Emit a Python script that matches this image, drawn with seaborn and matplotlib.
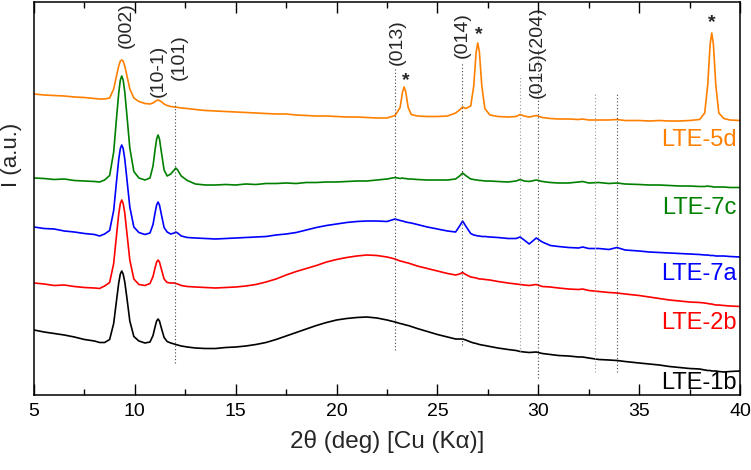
import pandas as pd
import seaborn as sns
import matplotlib.pyplot as plt
from matplotlib.ticker import MultipleLocator

# 2theta grid (deg)
two_theta = [5.0, 5.5, 6.0, 6.5, 7.0, 7.5, 8.0, 8.25, 8.5, 8.75,
             8.95, 9.1, 9.2, 9.28, 9.35, 9.42, 9.5, 9.6, 9.75, 9.95,
             10.2, 10.5, 10.75, 10.9, 11.0, 11.08, 11.15, 11.22, 11.3, 11.45,
             11.6, 11.78, 11.95, 12.03, 12.12, 12.3, 12.6, 13.0, 13.5, 14.0,
             14.5, 15.0, 15.5, 16.0, 16.5, 17.0, 17.5, 18.0, 18.5, 19.0,
             19.5, 20.0, 20.5, 21.0, 21.5, 22.0, 22.5, 22.9, 23.15, 23.27,
             23.35, 23.43, 23.55, 23.7, 24.0, 24.5, 25.0, 25.5, 25.9, 26.1,
             26.25, 26.4, 26.65, 26.8, 26.92, 27.0, 27.08, 27.2, 27.35, 27.6,
             28.0, 28.5, 28.9, 29.1, 29.3, 29.55, 29.9, 30.2, 30.6, 31.0,
             31.5, 32.0, 32.2, 32.5, 33.0, 33.5, 33.9, 34.3, 35.0, 35.5,
             36.0, 36.5, 37.0, 37.5, 38.0, 38.25, 38.4, 38.52, 38.6, 38.68,
             38.8, 38.95, 39.2, 39.5, 40.0]

# intensities (a.u., already stacked with offsets)
lte_5d = [301, 300, 299.5, 299, 298, 297.5, 296.5, 296, 296, 297,
          306, 320, 329, 334, 335, 334, 329, 320, 306, 297,
          293.5, 291.5, 291, 292, 293.5, 294.5, 295, 294.5, 293.5, 291,
          289.5, 288.5, 288, 288, 287.5, 287, 286.5, 285.5, 284.5, 284,
          283.5, 283, 282.5, 282, 281.5, 281, 281, 280, 279.5, 279,
          279, 278.5, 278, 278, 277.5, 277, 277, 279.5, 287.5, 303,
          308, 303, 287.5, 280.5, 279, 278.5, 278.5, 279, 282, 285,
          288, 286.5, 289, 309, 343, 352, 343, 309, 286.5, 280,
          278.5, 278, 278.5, 280.5, 279, 278, 279.5, 277.5, 276.5, 276,
          276, 275.5, 276, 275, 275, 275, 275.5, 274.5, 274.5, 274,
          274.5, 274, 274, 274.5, 275.5, 282, 310, 351, 362, 351,
          310, 282, 276.5, 275, 274.5]

lte_7c = [217, 216.5, 215.5, 216, 214.5, 214, 213.5, 213, 215, 219.5,
          243, 279, 302, 315, 319, 315, 303, 281, 247, 223.5,
          217, 215, 217, 229, 245, 256, 260, 256, 245, 225,
          219, 221, 225, 227, 225, 219, 214.5, 211, 210, 210,
          210.5, 210, 211, 210.5, 211.5, 211.5, 212, 211.5, 212.5, 212.5,
          213, 213, 213.5, 214, 214, 215, 216, 217.5, 216.5, 217,
          216.5, 216.5, 216, 216, 215.5, 215, 215, 215, 216, 219,
          222, 219.5, 216, 215.5, 215, 215, 214.5, 214.5, 214, 214,
          213.5, 213, 214, 215.5, 214, 213.5, 215, 213.5, 212.5, 212,
          212, 213, 213.5, 212, 212.5, 211.5, 212, 211, 210.5, 210,
          210, 209.5, 209, 209, 208.5, 208.5, 209, 208.5, 208.5, 208,
          208, 208, 208, 207.5, 207.5]

lte_7a = [168, 166.5, 166, 164, 163, 161.5, 160.5, 159, 161, 164.5,
          184.5, 215.5, 235.5, 246.5, 250, 246.5, 236, 217, 188, 168,
          162.5, 160.5, 162, 170.5, 182, 190, 193, 190, 182, 167.5,
          163, 161, 162, 163, 162, 159, 157.5, 157, 156.5, 156,
          156.5, 157, 157.5, 158, 158.5, 160, 161, 162.5, 165, 167.5,
          169.5, 171, 172.5, 173.5, 174, 174, 173.5, 176, 174.5, 174,
          173.5, 173, 172.5, 172, 170.5, 168, 166, 164, 163, 169,
          174, 169, 161.5, 160, 159.5, 159, 159, 158.5, 158.5, 158,
          157.5, 156.5, 156.5, 158, 155, 151, 157, 153, 149.5, 148.5,
          147.5, 147, 148, 146.5, 146.5, 145.5, 147.5, 145, 144, 143,
          142.5, 142, 141.5, 141, 140.5, 140, 140, 139.5, 139.5, 139.5,
          139, 139, 139, 138.5, 138]

lte_2b = [112, 111, 109.5, 110, 108.5, 107.5, 107, 106.5, 109, 112.5,
          131.5, 161.5, 181, 191.5, 195, 191.5, 182, 163, 135, 116,
          110.5, 109.5, 111.5, 118.5, 127, 133, 135, 133, 127, 116,
          112.5, 112, 112, 111.5, 111, 109.5, 108.5, 108, 107.5, 107,
          107.5, 108, 109, 110.5, 113, 116, 120, 123.5, 126.5, 129.5,
          133, 135.5, 137.5, 139, 140, 139.5, 138, 136, 134, 133.5,
          133, 132.5, 132, 131, 129, 126.5, 124, 121.5, 120, 121,
          122.5, 120.5, 118, 117.5, 117, 116.5, 116, 116, 115.5, 115,
          113.5, 112, 111, 110.5, 110, 109.5, 110.5, 108.5, 108, 107,
          106, 105.5, 106, 104.5, 103.5, 102.5, 102, 101, 99.5, 98,
          96.5, 95, 94, 93, 92.5, 92, 91.5, 91, 91, 90.5,
          90, 90, 89.5, 89, 88.5]

lte_1b = [65, 63, 61.5, 60, 58, 55.5, 54, 52.5, 52.5, 55.5,
          71.5, 96, 112, 121, 124, 121, 113, 98, 74, 58.5,
          54, 52, 53, 59.5, 68, 74, 76, 74, 68, 57.5,
          53.5, 52, 51, 50.5, 50, 49, 48, 47, 46.5, 46.5,
          47.5, 48, 49, 50.5, 52.5, 55.5, 59, 62.5, 66, 69.5,
          72.5, 75, 76.5, 77.5, 78, 77, 75, 73, 71.5, 71,
          70.5, 70, 69.5, 68.5, 66.5, 63.5, 60.5, 58, 56, 56,
          56, 55, 53, 52, 51.5, 51, 50.5, 50, 49.5, 48.5,
          47, 45.5, 44.5, 43.5, 43, 42.5, 43, 41.5, 40.5, 39.5,
          39, 38, 38, 37, 35.5, 35, 34.5, 33.5, 32, 31,
          30, 28.5, 27.5, 26.5, 26, 25, 24.5, 24.5, 24, 24,
          24, 23.5, 23, 23.5, 24]

samples = ['LTE-5d', 'LTE-7c', 'LTE-7a', 'LTE-2b', 'LTE-1b']
colors = ['#ff8000', '#008000', '#0000ff', '#ff0000', '#000000']
label_y = [255, 187, 121, 72, 12]

# reflections: position, line top, line bottom, label
refl_pos = [12.0, 22.9, 26.2, 30.0, 33.9]
refl_top = [295, 327, 333, 347, 302]
refl_bottom = [32, 45, 50, 17, 23]
extra_pos = [29.1, 32.8]
extra_top = [320, 303]
extra_bottom = [43, 23]

hkl_x = [9.55, 11.17, 12.2, 23.0, 26.22, 29.96]
hkl_y = [347, 298, 315, 330, 337, 297]
hkl_text = ['(002)', '(10-1)', '(101)', '(013)', '(014)', '(015)(204)']

star_x = [23.42, 27.05, 38.6]
star_y = [314, 360, 372]

df = pd.DataFrame({
    'two_theta': two_theta * 5,
    'I': lte_5d + lte_7c + lte_7a + lte_2b + lte_1b,
    'sample': [s for s in samples for _ in two_theta],
})

sns.set_theme(style='ticks')
plt.rcParams['font.family'] = ['Liberation Sans', 'DejaVu Sans']

fig = plt.figure(figsize=(7.51, 4.70), dpi=100)
ax = fig.add_axes([34 / 751, 1 - 395 / 470, 706 / 751, 393 / 470])

sns.lineplot(data=df, x='two_theta', y='I', hue='sample', palette=colors,
             hue_order=samples, estimator=None, sort=False, legend=False,
             linewidth=1.2, ax=ax)

ax.vlines(refl_pos, refl_bottom, refl_top, colors='#444444',
          linestyles=(0, (1, 2)), linewidth=0.8)
ax.vlines(extra_pos, extra_bottom, extra_top, colors='#999999',
          linestyles=(0, (1, 2)), linewidth=0.8)

for x, y, t in zip(hkl_x, hkl_y, hkl_text):
    ax.text(x, y, t, rotation=90, ha='center', va='bottom', fontsize=14)
for x, y in zip(star_x, star_y):
    ax.text(x, y, '*', ha='center', va='center', fontsize=14, fontweight='bold')
for s, c, y in zip(samples, colors, label_y):
    ax.text(39.85, y, s, color=c, ha='right', va='center', fontsize=17)

ax.set_xlim(5, 40)
ax.set_ylim(0, 393)
ax.xaxis.set_major_locator(MultipleLocator(5))
ax.xaxis.set_minor_locator(MultipleLocator(2.5))
ax.tick_params(axis='x', which='both', direction='in', top=True, width=1,
               labelsize=14, pad=6, colors='black')
ax.tick_params(axis='x', which='major', length=8)
ax.tick_params(axis='x', which='minor', length=4.5)
ax.set_yticks([])
for sp in ax.spines.values():
    sp.set_visible(True)
    sp.set_linewidth(1.1)
    sp.set_color('black')

ax.set_xlabel('2\u03b8 (deg) [Cu (K\u03b1)]', fontsize=17.5, labelpad=7)
ax.set_ylabel('I (a.u.)', fontsize=16)
ax.yaxis.set_label_coords(-0.017, 0.61)

fig.savefig('out.png', dpi=100)
